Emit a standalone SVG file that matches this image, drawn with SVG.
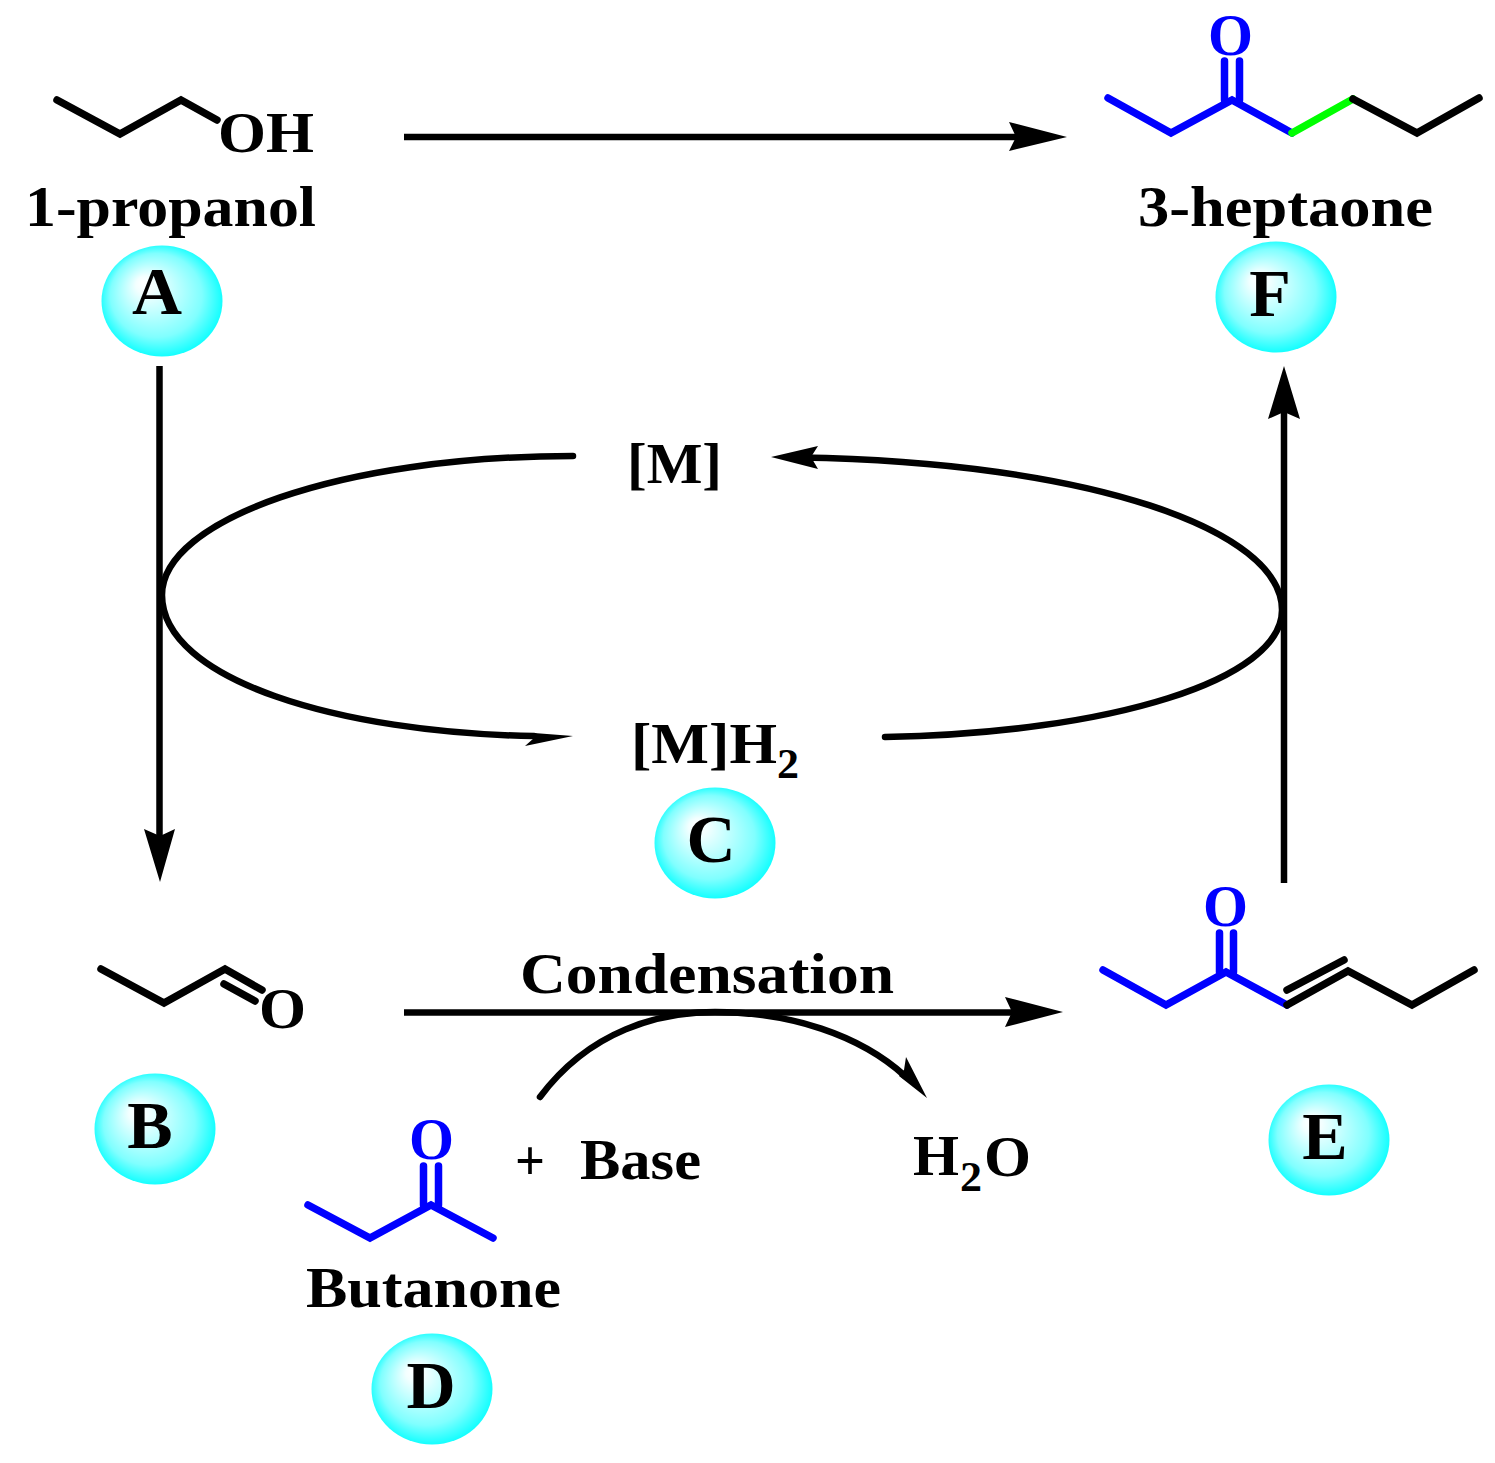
<svg xmlns="http://www.w3.org/2000/svg" width="1495" height="1463" viewBox="0 0 1495 1463">
<defs>
<radialGradient id="ball" cx="0.5" cy="0.5" r="0.54" fx="0.34" fy="0.33">
<stop offset="0" stop-color="#ffffff"/>
<stop offset="0.15" stop-color="#f2ffff"/>
<stop offset="0.7" stop-color="#80ffff"/>
<stop offset="0.93" stop-color="#1affff"/>
<stop offset="1" stop-color="#00ffff"/>
</radialGradient>
</defs>
<style>
text{font-family:"Liberation Serif","Times New Roman",serif;font-weight:bold;fill:#000}
.t{font-size:58px}
.l{font-size:68px;text-anchor:middle}
.o{font-size:60px;fill:#0000ff}
.s{font-size:42px}
.b{fill:none;stroke-width:7.5;stroke-linecap:round;stroke-linejoin:miter}
.k{stroke:#000}
.u{stroke:#0000ff}
.g{stroke:#00ff00}
.a{fill:none;stroke:#000;stroke-width:6.5}
.h{fill:#000;stroke:none}
.ball{fill:url(#ball)}
</style>
<rect width="1495" height="1463" fill="#fff"/>
<g id="connectors">
<path class="a" d="M404,137H1030"/><path class="h" d="M1067,137L1009,122L1016,137L1009,151Z"/>
<path class="a" d="M159.500,366V850"/><path class="h" d="M160,882L144,829L160,836L175,829Z"/>
<path class="a" d="M1284,883V395"/><path class="h" d="M1284,366L1268,419L1284,412L1300,419Z"/>
<path class="a" d="M404,1012.500H1030"/><path class="h" d="M1063,1012L1005,997L1012,1012L1005,1027Z"/>
<path class="a" stroke-linecap="round" d="M573,456C340,456 162,520 162,595C162,680 340,733 534,736"/>
<path class="h" d="M573,736L534,733L534,738L525,746Z"/>
<path class="a" stroke-linecap="round" d="M885,737C1110,733 1282,680 1282,610C1282,530 1090,462 800,457.500"/>
<path class="h" d="M771,457L818,446L811,457L818,469Z"/>
<path class="a" stroke-linecap="round" d="M540,1097C590,1030 660,1012 715,1012C790,1012 860,1035 905,1076"/>
<path class="h" d="M927,1098L906,1057L904,1070L899,1076Z"/>
</g>
<g id="node-A">
<path class="b k" d="M57,100L120,134L181,100L217,120"/>
<text class="t" x="218" y="152" textLength="96" lengthAdjust="spacingAndGlyphs">OH</text>
<text class="t" x="25" y="226" textLength="291" lengthAdjust="spacingAndGlyphs">1-propanol</text>
<ellipse class="ball" cx="162" cy="301" rx="60.500" ry="55.500"/>
<text class="l" x="157" y="314" textLength="50" lengthAdjust="spacingAndGlyphs">A</text>
</g>
<g id="node-F">
<path class="b u" d="M1108,98L1171,133L1232,100L1292,133"/>
<path class="b g" d="M1292,133L1353,99"/>
<path class="b k" d="M1353,99L1417,133L1479,98"/>
<path class="b u" d="M1224.500,61V100M1239.500,61V100"/>
<text class="o" x="1208" y="55" textLength="45" lengthAdjust="spacingAndGlyphs">O</text>
<text class="t" x="1138" y="226" textLength="295" lengthAdjust="spacingAndGlyphs">3-heptaone</text>
<ellipse class="ball" cx="1276" cy="297" rx="60.500" ry="55.500"/>
<text class="l" x="1270" y="316">F</text>
</g>
<g id="node-M">
<text class="t" x="627" y="483" textLength="95" lengthAdjust="spacingAndGlyphs">[M]</text>
</g>
<g id="node-C">
<text class="t" x="631" y="763" textLength="146" lengthAdjust="spacingAndGlyphs">[M]H</text>
<text class="s" x="777" y="778" textLength="22" lengthAdjust="spacingAndGlyphs">2</text>
<ellipse class="ball" cx="715" cy="843" rx="60.500" ry="55.500"/>
<text class="l" x="711" y="862">C</text>
</g>
<g id="node-B">
<path class="b k" d="M101,969L164,1003L225,969L262,990M224,984L255,1001"/>
<text class="t" x="259" y="1028" textLength="47" lengthAdjust="spacingAndGlyphs">O</text>
<ellipse class="ball" cx="155" cy="1129" rx="60.500" ry="55.500"/>
<text class="l" x="150" y="1148">B</text>
</g>
<g id="node-D">
<path class="b u" d="M308,1205L370,1238L431,1205L493,1238"/>
<path class="b u" d="M423.500,1166V1205M438.500,1166V1205"/>
<text class="o" x="409" y="1159" textLength="45" lengthAdjust="spacingAndGlyphs">O</text>
<text class="t" x="306" y="1307" textLength="255" lengthAdjust="spacingAndGlyphs">Butanone</text>
<ellipse class="ball" cx="432" cy="1389" rx="60.500" ry="55.500"/>
<text class="l" x="431" y="1408">D</text>
</g>
<g id="node-E">
<path class="b u" d="M1103,970L1166,1005L1226,972L1287,1005"/>
<path class="b k" d="M1287,1005L1348,971L1412,1005L1474,970M1287,990L1344,960"/>
<path class="b u" d="M1219.500,933V972M1233.500,933V972"/>
<text class="o" x="1203" y="926" textLength="45" lengthAdjust="spacingAndGlyphs">O</text>
<ellipse class="ball" cx="1329" cy="1140" rx="60.500" ry="55.500"/>
<text class="l" x="1325" y="1159">E</text>
</g>
<g id="labels">
<text class="t" x="520" y="993" textLength="374" lengthAdjust="spacingAndGlyphs">Condensation</text>
<text class="t" x="515" y="1180" textLength="30" lengthAdjust="spacingAndGlyphs">+</text>
<text class="t" x="580" y="1179" textLength="121" lengthAdjust="spacingAndGlyphs">Base</text>
<text class="t" x="913" y="1175" textLength="46" lengthAdjust="spacingAndGlyphs">H</text>
<text class="s" x="960" y="1191" textLength="22" lengthAdjust="spacingAndGlyphs">2</text>
<text class="t" x="984" y="1176" textLength="47" lengthAdjust="spacingAndGlyphs">O</text>
</g>
</svg>
